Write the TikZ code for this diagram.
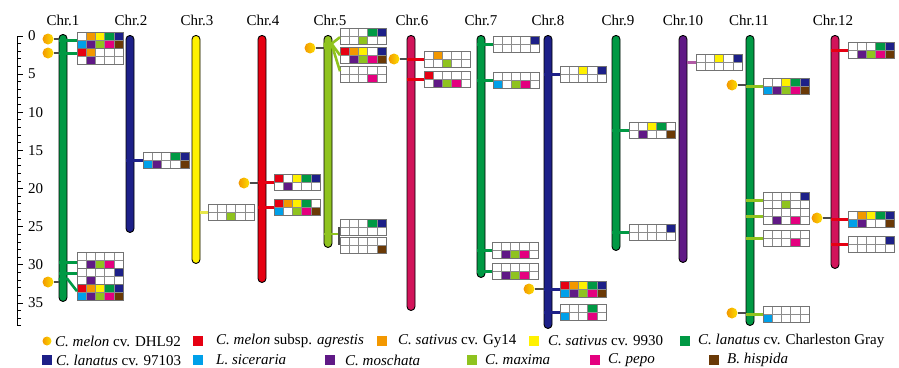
\documentclass[tikz,border=0pt]{standalone}
\usepackage{fontspec}
\setmainfont{Liberation Serif}
\usetikzlibrary{calc}

% palette of the eleven genomes
\definecolor{cR}{HTML}{E60012}
\definecolor{cO}{HTML}{F39800}
\definecolor{cY}{HTML}{FFF100}
\definecolor{cG}{HTML}{009944}
\definecolor{cB}{HTML}{1D2088}
\definecolor{cL}{HTML}{00A0E9}
\definecolor{cP}{HTML}{601986}
\definecolor{cV}{HTML}{8FC31F}
\definecolor{cK}{HTML}{E4007F}
\definecolor{cN}{HTML}{6A3906}
\definecolor{cC}{HTML}{D2145A}
\definecolor{cLink}{HTML}{B15BA6}
\definecolor{cYl}{HTML}{E8E84A}

\tikzset{
  chrom/.style={draw=black, line width=0.9pt, fill=#1, rounded corners=3.9pt,
    minimum width=8pt, inner sep=0pt, anchor=north},
  gbox/.style={minimum width=46pt, minimum height=16pt, inner sep=0pt, anchor=north west},
  cell/.style={draw=black!45, line width=0.6pt},
  link/.style={draw=#1, line width=2.6pt},
  tag/.style={circle, minimum size=11pt, inner sep=0pt, left color=cO, right color=cY!80!cO},
  tagline/.style={draw=black!70, line width=1.2pt},
  chrlabel/.style={font=\fontsize{15}{15}\selectfont},
  ticklabel/.style={font=\fontsize{15}{15}\selectfont, anchor=west, inner sep=0pt},
  legtext/.style={font=\fontsize{15}{15}\selectfont, anchor=west, inner sep=0pt},
  legsq/.style={minimum size=10pt, inner sep=0pt, fill=#1},
}

% a 5x2 grid of marker cells: name, top-left corner, upper colours, lower colours
\newcommand{\gridbox}[4]{%
  \node[gbox] (#1) at (#2) {};
  \foreach \c [count=\i from 0] in {#3}
    \filldraw[cell, fill=\c] ($(#1.north west)+(\i*9.2,0)$) rectangle ++(9.2,8);
  \foreach \c [count=\i from 0] in {#4}
    \filldraw[cell, fill=\c] ($(#1.north west)+(\i*9.2,8)$) rectangle ++(9.2,8);
  \draw[black!55, line width=0.8pt] (#1.north west) rectangle (#1.south east);
}

\begin{document}
\begin{tikzpicture}[x=1pt, y=-1pt]
\useasboundingbox (0,0) rectangle (899,367);

% scale bar (Mb)
\def\yz{36}
\def\mb{7.63}
\draw[line width=0.9pt] (17,\yz) -- (17,{\yz+38*\mb});
\foreach \k in {0,...,38}
  \draw[line width=0.9pt] (17,{\yz+\k*\mb}) -- ++(3.5,0);
\foreach \k in {0,5,...,35}
  \draw[line width=0.9pt] (17,{\yz+\k*\mb}) -- ++(6,0);
\foreach \k in {0,5,...,35}
  \node[ticklabel] (t\k) at (28,{\yz+\k*\mb}) {\k};

% chromosomes
\node[chrom=cG,  minimum height=267pt] (c1)  at (63,34)  {};
\node[chrom=cB,  minimum height=197pt] (c2)  at (130,35) {};
\node[chrom=cY,  minimum height=228pt] (c3)  at (196,35) {};
\node[chrom=cR,  minimum height=247pt] (c4)  at (262,35) {};
\node[chrom=cV,  minimum height=212pt] (c5)  at (328,35) {};
\node[chrom=cC,  minimum height=275pt] (c6)  at (411,35) {};
\node[chrom=cG,  minimum height=242pt] (c7)  at (481,35) {};
\node[chrom=cB,  minimum height=293pt] (c8)  at (548,35) {};
\node[chrom=cG,  minimum height=215pt] (c9)  at (616,35) {};
\node[chrom=cP,  minimum height=227pt] (c10) at (683,35) {};
\node[chrom=cG,  minimum height=290pt] (c11) at (750,35) {};
\node[chrom=cC,  minimum height=233pt] (c12) at (835,35) {};

\foreach \n/\x in {1/63,2/131,3/197,4/263,5/330,6/412,7/481,8/548,9/618,10/683,11/749,12/833}
  \node[chrlabel] (l\n) at (\x,20) {Chr.\n};

% marker grids
\gridbox{b1a}{77,32}{white,cO,cY,cG,cB}{cL,cP,cV,cK,cN}
\gridbox{b1b}{77,48}{cR,cO,white,white,white}{white,cP,white,white,white}
\gridbox{b1c}{77,252}{white,white,white,white,white}{white,cP,cV,cK,white}
\gridbox{b1d}{77,268}{white,white,white,white,cB}{white,cP,white,white,white}
\gridbox{b1e}{77,284}{cR,cO,cY,cG,cB}{cL,cP,cV,cK,cN}
\gridbox{b2a}{143,152}{white,white,white,cG,cB}{cL,cP,white,white,cN}
\gridbox{b3a}{208,204}{white,white,white,white,white}{white,white,cV,white,white}
\gridbox{b4a}{274,174}{cR,white,cY,cG,cB}{white,cP,white,white,white}
\gridbox{b4b}{274,199}{cR,cO,cY,cG,white}{cL,white,cV,cK,cN}
\gridbox{b5a}{340,28}{white,white,white,cG,cB}{white,white,cV,white,white}
\gridbox{b5b}{340,47}{cR,cO,cY,white,cB}{white,cP,cV,cK,cN}
\gridbox{b5c}{340,66}{white,white,white,white,white}{white,white,white,cK,white}
\gridbox{b5d}{340,219}{white,white,white,cG,cB}{white,white,white,white,white}
\gridbox{b5e}{340,237}{white,white,white,white,white}{white,white,white,white,cN}
\gridbox{b6a}{424,51}{white,cO,white,white,white}{white,white,cV,white,white}
\gridbox{b6b}{424,71}{cR,white,white,white,white}{white,cP,cV,cK,white}
\gridbox{b7a}{493,36}{white,white,white,white,cB}{white,white,white,white,white}
\gridbox{b7b}{493,72}{white,white,white,white,white}{cL,white,cV,cK,white}
\gridbox{b7c}{492,242}{white,white,white,white,white}{white,cP,cV,cK,white}
\gridbox{b7d}{492,263}{white,white,white,white,white}{white,cP,cV,cK,white}
\gridbox{b8a}{560,66}{white,white,cY,white,cB}{white,white,white,white,white}
\gridbox{b8b}{560,281}{cR,cO,cY,cG,cB}{cL,cP,cV,cK,cN}
\gridbox{b8c}{560,304}{white,white,white,cG,white}{cL,white,white,cK,white}
\gridbox{b9a}{629,122}{white,white,cY,cG,white}{white,cP,white,white,cN}
\gridbox{b9b}{629,224}{white,white,white,white,cB}{white,white,white,white,white}
\gridbox{b10a}{696,54}{white,white,cY,white,cB}{white,white,white,white,white}
\gridbox{b11a}{763,78}{white,white,cY,cG,cB}{cL,cP,cV,cK,cN}
\gridbox{b11b}{763,192}{white,white,white,white,cB}{white,white,cV,white,white}
\gridbox{b11c}{763,208}{white,white,white,white,white}{white,cP,white,cK,white}
\gridbox{b11d}{763,230}{white,white,white,white,white}{white,white,white,cK,white}
\gridbox{b11e}{763,306}{white,white,white,white,white}{cL,white,white,white,white}
\gridbox{b12a}{848,42}{white,white,white,cG,cB}{white,cP,cV,cK,cN}
\gridbox{b12b}{848,211}{white,cO,cY,cG,cB}{cL,cP,white,white,cN}
\gridbox{b12c}{848,236}{white,white,white,white,cB}{white,white,white,white,white}

% links from chromosome positions to their grids
\draw[link=cG] (c1.west |- b1a.west) -- (b1a.west);
\draw[link=cG] ($(c1.west |- b1b.west)+(0,-3)$) -- ($(b1b.west)+(0,-3)$);
\draw[link=cG] ($(c1.west |- b1c.west)+(0,2)$) -- ($(b1c.west)+(0,2)$);
\draw[link=cG] ($(c1.west |- b1d.west)+(0,-3)$) -- ($(b1d.west)+(0,-3)$);
\draw[link=cG] ($(c1.west |- b1e.west)+(0,-13)$) -- (c1.east |- 0,279) -- ($(b1e.west)+(0,-1)$);
\draw[link=cB] (c2.west |- b2a.west) -- (b2a.west);
\draw[link=cYl] (c3.east |- b3a.west) -- (b3a.west);
\draw[link=cR] (c4.west |- b4a.west) -- (b4a.west);
\draw[link=cR] (c4.west |- b4b.west) -- (b4b.west);
\draw[link=cV] (c5.west |- 0,44) -- (c5.east |- 0,43) -- ($(b5a.west)+(0,1)$);
\draw[link=cV] (c5.west |- 0,46) -- (c5.east |- 0,45) -- (b5b.west);
\draw[link=cV] (c5.west |- 0,48) -- (c5.east |- 0,47) -- ($(b5c.west)+(0,-3)$);
\draw[link=cV] (c5.west |- 0,234) -- (339,234);
\draw[tagline] ($(b5d.west)+(-1,0)$) -- ($(b5e.west)+(-1,0)$);
\draw[link=cR] (c6.west |- b6a.west) -- (b6a.west);
\draw[link=cR] (c6.west |- b6b.west) -- (b6b.west);
\draw[link=cG] (c7.west |- b7a.west) -- (b7a.west);
\draw[link=cG] (c7.west |- b7b.west) -- (b7b.west);
\draw[link=cG] (c7.west |- b7c.west) -- (b7c.west);
\draw[link=cG] (c7.west |- b7d.west) -- (b7d.west);
\draw[link=cB] (c8.west |- b8a.west) -- (b8a.west);
\draw[link=cB] (c8.west |- b8b.west) -- (b8b.west);
\draw[link=cB] (c8.west |- b8c.west) -- (b8c.west);
\draw[link=cG] (c9.west |- b9a.west) -- (b9a.west);
\draw[link=cG] (c9.west |- b9b.west) -- (b9b.west);
\draw[link=cLink] (c10.east |- b10a.west) -- (b10a.west);
\draw[link=cV] (c11.west |- b11a.west) -- (b11a.west);
\draw[link=cV] (c11.west |- b11b.west) -- (b11b.west);
\draw[link=cV] (c11.west |- b11c.west) -- (b11c.west);
\draw[link=cV] (c11.west |- b11d.west) -- (b11d.west);
\draw[link=cV] (c11.west |- b11e.west) -- (b11e.west);
\draw[link=cR] (c12.west |- b12a.west) -- (b12a.west);
\draw[link=cR] (c12.west |- b12b.west) -- (b12b.west);
\draw[link=cR] (c12.west |- b12c.west) -- (b12c.west);

% C. melon cv. DHL92 markers
\foreach \n/\x/\y/\c in {d1/48/39/c1, d2/48/53/c1, d3/48/282/c1, d4/244/183/c4,
    d5/310/48/c5, d6/394/59/c6, d7/529/289/c8, d8/732/85/c11, d9/732/313/c11, d10/817/218/c12}{
  \node[tag] (\n) at (\x,\y) {};
  \draw[tagline] (\n.east) -- (\c.west |- \n.east);
}

% legend
\node[tag, minimum size=9pt] (g0) at (47,341) {};
\node[legtext] (gt0) at (55,341) {\textit{C. melon} cv. DHL92};
\foreach \n/\x/\tx/\y/\c/\t in {
   1/198/216/341/cR/{\textit{C. melon} subsp. \textit{agrestis}},
   2/382/398/341/cO/{\textit{C. sativus} cv. Gy14},
   3/534/548/341/cY/{\textit{C. sativus} cv. 9930},
   4/685/698/341/cG/{\textit{C. lanatus} cv. Charleston Gray},
   5/47/56/360/cB/{\textit{C. lanatus} cv. 97103},
   6/198/216/360/cL/{\textit{L. siceraria}},
   7/330/345/360/cP/{\textit{C. moschata}},
   8/472/485/360/cV/{\textit{C. maxima}},
   9/595/608/360/cK/{\textit{C. pepo}},
   10/714/727/360/cN/{\textit{B. hispida}}}{
  \node[legsq=\c] (g\n) at (\x,\y) {};
  \node[legtext] (gt\n) at (\tx,\y) {\t};
}
\end{tikzpicture}
\end{document}
